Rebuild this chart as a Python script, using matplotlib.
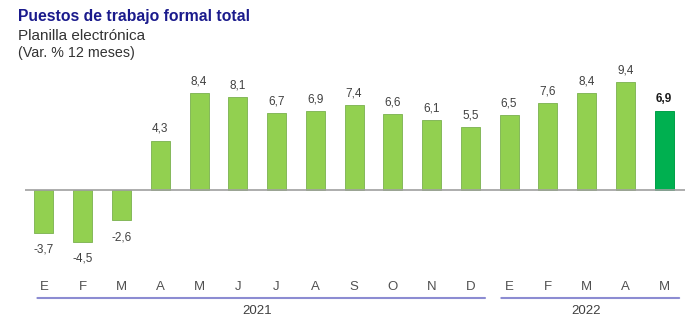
import matplotlib
matplotlib.use("Agg")
import matplotlib.pyplot as plt

months = ["E", "F", "M", "A", "M", "J", "J", "A", "S", "O", "N", "D", "E", "F", "M", "A", "M"]
values = [-3.7, -4.5, -2.6, 4.3, 8.4, 8.1, 6.7, 6.9, 7.4, 6.6, 6.1, 5.5, 6.5, 7.6, 8.4, 9.4, 6.9]
years = ["2021", "2022"]
year_spans = [(0, 11), (12, 16)]

plt.rcParams['font.family'] = ['Liberation Sans', 'DejaVu Sans']

W, H = 696, 325
fig = plt.figure(figsize=(W / 100, H / 100), dpi=100)
ax_left, ax_right = 25, 685
ax_top, ax_bot = 69.25, 249.8
ax = fig.add_axes([ax_left / W, (H - ax_bot) / H, (ax_right - ax_left) / W, (ax_bot - ax_top) / H])

x = list(range(len(values)))
colors = ["#92D050"] * (len(values) - 1) + ["#00B050"]
edges = ["#84B85A"] * (len(values) - 1) + ["#00A048"]
ax.bar(x, values, width=0.49, color=colors, edgecolor=edges, linewidth=0.7, zorder=2)
ax.axhline(0, color="#A0A0A0", linewidth=1.2, zorder=3)

for i, v in enumerate(values):
    txt = f"{v:.1f}".replace(".", ",")
    last = i == len(values) - 1
    if v >= 0:
        ax.annotate(txt, (i, v), xytext=(0, 4), textcoords="offset points",
                    ha="center", va="bottom", fontsize=8.5,
                    color="#1A1A1A" if last else "#404040",
                    fontweight="bold" if last else "normal")
    else:
        ax.annotate(txt, (i, v), xytext=(0, -8), textcoords="offset points",
                    ha="center", va="top", fontsize=8.5, color="#404040")

ax.set_xlim(-0.49, 16.54)
ax.set_ylim(-5.2, 10.5)
ax.axis("off")

ytr = ("data", "figure fraction")
for i, m in enumerate(months):
    ax.annotate(m, (i, (H - 287) / H), xycoords=ytr, ha="center", va="center",
                fontsize=9.5, color="#505050")

line_ends = [(-0.17, 11.38), (12 - 0.2, 16.39)]
for (a, b), (xa, xb), yr in zip(year_spans, line_ends, years):
    ax.annotate("", xy=(xb, (H - 298) / H), xytext=(xa, (H - 298) / H),
                xycoords=ytr, textcoords=ytr,
                arrowprops=dict(arrowstyle="-", color="#8C8CD2", linewidth=1.5,
                                shrinkA=0, shrinkB=0))
    ax.annotate(yr, ((a + b) / 2, (H - 311) / H), xycoords=ytr,
                ha="center", va="center", fontsize=9.5, color="#404040")

fig.text(18 / W, 1 - 17 / H, "Puestos de trabajo formal total", fontsize=11.3, fontweight="bold",
         color="#1A1A8C", ha="left", va="center")
fig.text(18 / W, 1 - 36 / H, "Planilla electrónica", fontsize=11, color="#333333",
         ha="left", va="center")
fig.text(18 / W, 1 - 53 / H, "(Var. % 12 meses)", fontsize=10.3, color="#333333",
         ha="left", va="center")

fig.savefig("out.png", dpi=100, facecolor="white")
